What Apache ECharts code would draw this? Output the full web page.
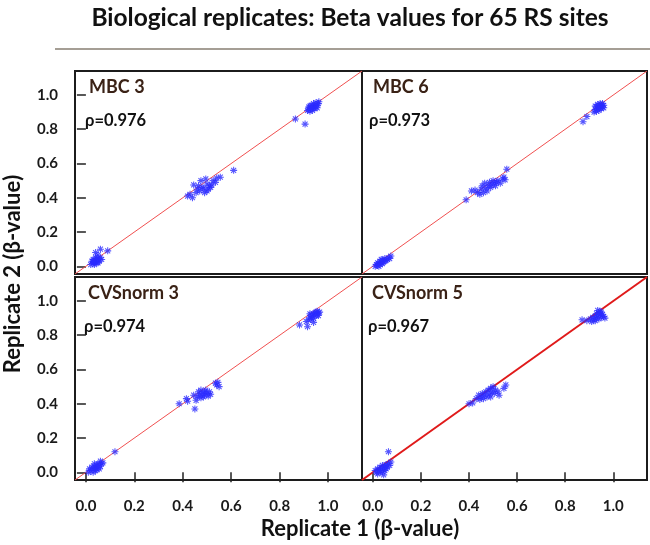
<!DOCTYPE html>
<html>
<head>
<meta charset="utf-8">
<script src="https://cdn.jsdelivr.net/npm/echarts@6/dist/echarts.min.js"></script>
<style>html,body{margin:0;padding:0;background:#fff}#c{width:650px;height:545px}</style>
</head>
<body>
<div id="c"></div>
<script>
const titleText = 'Biological replicates: Beta values for 65 RS sites';
const xTitle = 'Replicate 1 (β-value)';
const yTitle = 'Replicate 2 (β-value)';
const panelNames = ['MBC 3', 'MBC 6', 'CVSnorm 3', 'CVSnorm 5'];
const rhoLabels = ['ρ=0.976', 'ρ=0.973', 'ρ=0.974', 'ρ=0.967'];
const tickValues = [0, 0.2, 0.4, 0.6, 0.8, 1.0];
const axisMin = -0.045, axisMax = 1.14;

const mbc3 = [
[0.02,0.01],[0.03,0.02],[0.025,0.03],[0.035,0.02],[0.04,0.03],[0.03,0.04],[0.045,0.02],[0.05,0.04],[0.04,0.05],[0.055,0.03],
[0.06,0.05],[0.035,0.01],[0.045,0.045],[0.05,0.02],[0.065,0.04],[0.03,0.03],[0.04,0.08],[0.06,0.10],[0.09,0.09],[0.05,0.065],
[0.42,0.41],[0.43,0.42],[0.44,0.40],[0.445,0.475],[0.455,0.43],[0.46,0.45],[0.465,0.47],[0.47,0.44],[0.475,0.50],[0.48,0.46],
[0.485,0.455],[0.49,0.43],[0.495,0.51],[0.50,0.48],[0.50,0.44],[0.505,0.45],[0.51,0.47],[0.515,0.46],[0.52,0.475],[0.525,0.50],
[0.535,0.49],[0.54,0.515],[0.555,0.52],[0.61,0.56],
[0.865,0.86],[0.905,0.83],[0.915,0.91],[0.92,0.93],[0.925,0.905],[0.93,0.92],[0.93,0.94],[0.935,0.91],[0.94,0.93],[0.94,0.95],
[0.945,0.92],[0.945,0.94],[0.95,0.93],[0.95,0.955],[0.955,0.94],[0.96,0.95],[0.935,0.925],[0.925,0.935],[0.955,0.925],[0.962,0.96],[0.92,0.915]
];
const mbc6 = [
[0.01,0.0],[0.015,0.01],[0.02,0.005],[0.02,0.02],[0.025,0.015],[0.03,0.01],[0.03,0.03],[0.035,0.02],[0.04,0.015],[0.04,0.035],
[0.045,0.025],[0.05,0.03],[0.05,0.045],[0.055,0.035],[0.06,0.04],[0.065,0.05],[0.07,0.045],[0.075,0.06],[0.035,0.04],[0.025,0.0],
[0.388,0.388],[0.41,0.44],[0.425,0.445],[0.435,0.43],[0.445,0.42],[0.45,0.45],[0.455,0.47],[0.46,0.43],[0.465,0.485],[0.47,0.455],
[0.475,0.44],[0.48,0.47],[0.485,0.49],[0.49,0.46],[0.495,0.475],[0.50,0.50],[0.505,0.485],[0.51,0.47],[0.515,0.49],[0.52,0.50],
[0.53,0.485],[0.54,0.51],[0.545,0.52],[0.55,0.505],[0.557,0.567],
[0.874,0.844],[0.89,0.874],[0.92,0.90],[0.925,0.915],[0.93,0.93],[0.93,0.905],[0.935,0.92],[0.94,0.94],[0.94,0.91],[0.945,0.93],
[0.945,0.95],[0.95,0.92],[0.95,0.94],[0.955,0.93],[0.955,0.95],[0.96,0.94],[0.925,0.935],[0.935,0.945],[0.96,0.925],[0.94,0.925]
];
const cvs3 = [
[0.01,0.0],[0.015,0.02],[0.02,0.01],[0.025,0.03],[0.03,0.02],[0.03,0.0],[0.035,0.035],[0.04,0.01],[0.04,0.025],[0.045,0.04],
[0.045,0.015],[0.05,0.03],[0.05,0.05],[0.055,0.02],[0.055,0.045],[0.06,0.035],[0.06,0.065],[0.065,0.05],[0.07,0.055],[0.035,0.05],[0.12,0.12],
[0.385,0.40],[0.415,0.43],[0.42,0.415],[0.45,0.37],[0.445,0.45],[0.455,0.42],[0.46,0.44],[0.465,0.47],[0.47,0.45],[0.475,0.435],
[0.475,0.48],[0.48,0.46],[0.485,0.44],[0.49,0.47],[0.49,0.45],[0.495,0.48],[0.50,0.46],[0.505,0.445],[0.51,0.47],[0.515,0.455],
[0.54,0.51],[0.545,0.525],[0.55,0.50],[0.535,0.52],
[0.882,0.86],[0.915,0.85],[0.91,0.88],[0.92,0.89],[0.925,0.905],[0.93,0.895],[0.93,0.92],[0.935,0.91],[0.94,0.925],[0.94,0.90],
[0.945,0.93],[0.95,0.915],[0.95,0.935],[0.955,0.92],[0.955,0.94],[0.96,0.93],[0.965,0.935],[0.94,0.875],[0.925,0.925],[0.96,0.915]
];
const cvs5 = [
[0.01,0.01],[0.015,0.0],[0.02,0.02],[0.02,-0.01],[0.025,0.01],[0.03,0.03],[0.03,0.0],[0.035,0.015],[0.04,0.04],[0.04,0.005],
[0.045,0.025],[0.045,-0.015],[0.05,0.035],[0.05,0.01],[0.055,0.045],[0.055,0.02],[0.06,0.03],[0.065,0.05],[0.07,0.04],[0.075,0.06],[0.065,0.12],
[0.40,0.40],[0.415,0.405],[0.43,0.43],[0.44,0.45],[0.445,0.425],[0.45,0.44],[0.455,0.46],[0.46,0.43],[0.465,0.45],[0.47,0.47],
[0.475,0.44],[0.48,0.48],[0.485,0.455],[0.49,0.49],[0.495,0.47],[0.50,0.50],[0.505,0.46],[0.51,0.48],[0.52,0.47],[0.525,0.45],
[0.545,0.49],[0.553,0.51],[0.49,0.44],
[0.87,0.89],[0.89,0.885],[0.905,0.895],[0.91,0.88],[0.915,0.905],[0.92,0.89],[0.925,0.91],[0.93,0.90],[0.93,0.925],[0.935,0.915],
[0.94,0.93],[0.94,0.895],[0.945,0.92],[0.95,0.905],[0.95,0.935],[0.955,0.92],[0.96,0.91],[0.965,0.90],[0.935,0.945],[0.925,0.885],[0.945,0.94]
];
const panelData = [mbc3, mbc6, cvs3, cvs5];
const diagonal = [[axisMin, axisMin], [axisMax, axisMax]];

// asterisk symbol path
function asteriskPath() {
  const r = 5, w = 0.75, c = 5;
  let p = '';
  [0, 45, 90, 135].forEach(a => {
    const t = a * Math.PI / 180;
    const dx = Math.cos(t), dy = Math.sin(t), nx = -dy, ny = dx;
    const pts = [
      [c + r * dx + w * nx, c + r * dy + w * ny],
      [c + r * dx - w * nx, c + r * dy - w * ny],
      [c - r * dx - w * nx, c - r * dy - w * ny],
      [c - r * dx + w * nx, c - r * dy + w * ny]
    ];
    p += 'M' + pts.map(q => q[0].toFixed(2) + ',' + q[1].toFixed(2)).join('L') + 'Z';
  });
  return 'path://' + p;
}
const star = asteriskPath();

const FONT = 'Lato';
const grids = [
  {left: 75, top: 71, width: 287, height: 203},
  {left: 362, top: 71, width: 285, height: 203},
  {left: 75, top: 277, width: 287, height: 203},
  {left: 362, top: 277, width: 285, height: 203}
].map(g => Object.assign(g, {show: true, borderColor: '#1c1c1c', borderWidth: 2, backgroundColor: 'transparent'}));

const xAxes = grids.map((g, i) => {
  const bottom = i >= 2;
  return {
    type: 'value', gridIndex: i, min: axisMin, max: axisMax,
    splitLine: {show: false}, axisLine: {show: false},
    axisTick: {show: bottom, customValues: tickValues, length: 10, lineStyle: {color: '#222', width: 1.5}},
    axisLabel: {show: bottom, customValues: tickValues, margin: 19, formatter: v => v.toFixed(1),
      fontFamily: FONT, fontWeight: 'bold', fontSize: 15, color: '#1a1a1a'}
  };
});
const yAxes = grids.map((g, i) => {
  const left = i % 2 === 0;
  return {
    type: 'value', gridIndex: i, min: axisMin, max: axisMax,
    splitLine: {show: false}, axisLine: {show: false},
    axisTick: {show: left, customValues: tickValues, length: 9, lineStyle: {color: '#222', width: 1.5}},
    axisLabel: {show: left, customValues: tickValues, margin: 17, formatter: v => v.toFixed(1),
      fontFamily: FONT, fontWeight: 'bold', fontSize: 15, color: '#1a1a1a'}
  };
});

const series = [];
panelData.forEach((d, i) => {
  series.push({
    type: 'line', xAxisIndex: i, yAxisIndex: i, data: diagonal, symbol: 'none', silent: true,
    lineStyle: {color: i === 3 ? '#e01a1a' : '#f05050', width: i === 3 ? 2 : 1}, z: 2
  });
  series.push({
    type: 'scatter', xAxisIndex: i, yAxisIndex: i, data: d, symbol: star, symbolSize: 7,
    itemStyle: {color: '#2b2bff'}, z: 3
  });
});

const labelPos = [[89, 87, 121], [373, 87, 121], [88, 293, 327], [372, 293, 327]];
const graphic = [
  {type: 'text', x: 350, y: 18, style: {text: titleText, fontFamily: FONT, fontWeight: 'bold', fontSize: 24.5, fill: '#111', align: 'center', verticalAlign: 'middle'}},
  {type: 'line', shape: {x1: 55, y1: 49, x2: 650, y2: 49}, style: {stroke: '#a59e95', lineWidth: 2}},
  {type: 'text', x: 360, y: 529, style: {text: xTitle, fontFamily: FONT, fontWeight: 'bold', fontSize: 22, fill: '#111', align: 'center', verticalAlign: 'middle'}},
  {type: 'text', x: 13, y: 274, rotation: Math.PI / 2, style: {text: yTitle, fontFamily: FONT, fontWeight: 'bold', fontSize: 22, fill: '#111', align: 'center', verticalAlign: 'middle'}}
];
labelPos.forEach((p, i) => {
  graphic.push({type: 'text', x: p[0], y: p[1], style: {text: panelNames[i], fontFamily: FONT, fontWeight: 'bold', fontSize: 18, fill: '#3a2216', verticalAlign: 'middle'}});
  graphic.push({type: 'text', x: p[0] - 4, y: p[2], style: {text: rhoLabels[i], fontFamily: FONT, fontWeight: 'bold', fontSize: 16.5, fill: '#111', verticalAlign: 'middle'}});
});

const chart = echarts.init(document.getElementById('c'), null, {renderer: 'canvas'});
chart.setOption({
  animation: false,
  backgroundColor: '#fff',
  grid: grids, xAxis: xAxes, yAxis: yAxes, series: series, graphic: graphic
});
</script>
</body>
</html>
